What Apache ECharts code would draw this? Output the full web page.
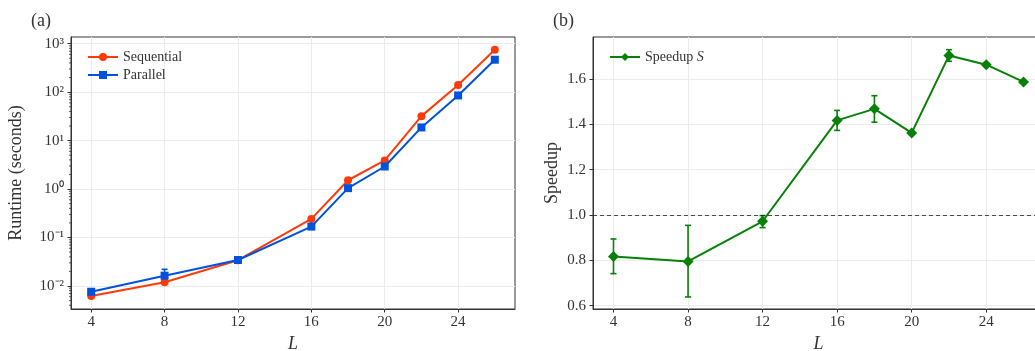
<!DOCTYPE html>
<html>
<head>
<meta charset="utf-8">
<script src="https://cdn.jsdelivr.net/npm/echarts@6/dist/echarts.min.js"></script>
<style>
html,body{margin:0;padding:0;background:#fff;}
#chart{width:1035px;height:351px;}
</style>
</head>
<body>
<div id="chart"></div>
<script>
// ---- data ----
const L = [4, 8, 12, 16, 18, 20, 22, 24, 26];
const seqRuntime = [0.0062, 0.0119, 0.0340, 0.242, 1.52, 3.89, 32.0, 140, 752];
const seqLow     = [0.0061, 0.0117, 0.0336, 0.238, 1.50, 3.84, 31.5, 138, 745];
const seqHigh    = [0.0063, 0.0121, 0.0344, 0.246, 1.54, 3.94, 32.5, 142, 759];
const parRuntime = [0.0076, 0.0163, 0.0344, 0.168, 1.045, 2.92, 18.7, 85.5, 467];
const parLow     = [0.0073, 0.0133, 0.0336, 0.164, 1.02, 2.86, 18.3, 84.0, 462];
const parHigh    = [0.0079, 0.0221, 0.0352, 0.172, 1.07, 2.98, 19.1, 87.0, 472];
const speedup     = [0.817, 0.795, 0.972, 1.417, 1.468, 1.362, 1.703, 1.663, 1.587];
const speedupLow  = [0.741, 0.638, 0.944, 1.373, 1.409, 1.357, 1.678, 1.658, 1.583];
const speedupHigh = [0.894, 0.954, 0.997, 1.461, 1.526, 1.367, 1.729, 1.668, 1.591];
const xTicks = [4, 8, 12, 16, 20, 24];
const runtimeTicks = [0.01, 0.1, 1, 10, 100, 1000];
const speedupTicks = [0.6, 0.8, 1.0, 1.2, 1.4, 1.6];
const logMinorTicks = [0.004,0.005,0.006,0.007,0.008,0.009,
  0.02,0.03,0.04,0.05,0.06,0.07,0.08,0.09,
  0.2,0.3,0.4,0.5,0.6,0.7,0.8,0.9,
  2,3,4,5,6,7,8,9,
  20,30,40,50,60,70,80,90,
  200,300,400,500,600,700,800,900];
const supMap = {'-':'\u207B','0':'\u2070','1':'\u00B9','2':'\u00B2','3':'\u00B3','4':'\u2074','5':'\u2075','6':'\u2076','7':'\u2077','8':'\u2078','9':'\u2079'};

// ---- styling ----
const FONT = 'Liberation Serif';
const RED = '#ff3a0a', BLUE = '#0052dd', GREEN = '#078007';
const AX = '#333333', GRIDC = '#ebebeb';

function pairs(xs, ys){ return xs.map((x,i)=>[x, ys[i]]); }
function triples(xs, lo, hi){ return xs.map((x,i)=>[x, lo[i], hi[i]]); }

function errRender(color){
  return function(params, api){
    const x = api.value(0), lo = api.value(1), hi = api.value(2);
    const p1 = api.coord([x, lo]), p2 = api.coord([x, hi]);
    const c = 3;
    const st = {stroke: color, lineWidth: 1.6};
    return {type:'group', children:[
      {type:'line', shape:{x1:p1[0], y1:p1[1], x2:p2[0], y2:p2[1]}, style:st},
      {type:'line', shape:{x1:p1[0]-c, y1:p1[1], x2:p1[0]+c, y2:p1[1]}, style:st},
      {type:'line', shape:{x1:p2[0]-c, y1:p2[1], x2:p2[0]+c, y2:p2[1]}, style:st}
    ]};
  };
}

const xAxisBase = {
  type:'value', min:2.9, max:27.1,
  axisLine:{show:true, lineStyle:{color:AX, width:1}},
  axisTick:{show:true, inside:false, length:3.5, lineStyle:{color:AX}, customValues: xTicks},
  axisLabel:{color:AX, fontFamily:FONT, fontSize:15, margin:6, customValues: xTicks},
  splitLine:{show:true, lineStyle:{color:GRIDC, width:1}},
  name:'L', nameLocation:'middle', nameGap:26,
  nameTextStyle:{fontFamily:FONT, fontSize:18, fontStyle:'italic', color:AX}
};

const option = {
  animation:false,
  backgroundColor:'#fff',
  graphic:[
    {type:'text', left:31, top:12, style:{text:'(a)', font:'18px "Liberation Serif"', fill:AX}},
    {type:'text', left:553, top:12, style:{text:'(b)', font:'18px "Liberation Serif"', fill:AX}}
  ],
  grid:[
    {left:71, top:37, width:444, height:272, show:true, borderColor:AX, borderWidth:1, backgroundColor:'transparent', containLabel:false, outerBoundsMode:'none'},
    {left:593, top:37, width:451, height:272, show:true, borderColor:AX, borderWidth:1, backgroundColor:'transparent', containLabel:false, outerBoundsMode:'none'}
  ],
  legend:[
    {orient:'vertical', left:82, top:45, itemWidth:30, itemHeight:10, itemGap:4,
     data:['Sequential','Parallel'], textStyle:{fontFamily:FONT, fontSize:14, color:AX}, selectedMode:false},
    {orient:'vertical', left:604, top:45, itemWidth:30, itemHeight:10,
     data:['Speedup S'], selectedMode:false,
     formatter:function(){ return 'Speedup {i|S}'; },
     textStyle:{fontFamily:FONT, fontSize:14, color:AX, rich:{i:{fontFamily:FONT, fontSize:14, fontStyle:'italic', color:AX}}}}
  ],
  xAxis:[
    Object.assign({gridIndex:0}, xAxisBase),
    Object.assign({gridIndex:1}, xAxisBase)
  ],
  yAxis:[
    {gridIndex:0, type:'log', logBase:10, min:0.00335, max:1374,
     axisLine:{show:true, lineStyle:{color:AX}},
     axisTick:{show:true, length:3.5, lineStyle:{color:AX}, customValues: runtimeTicks},
     axisLabel:{color:AX, fontFamily:FONT, fontSize:15, margin:7, customValues: runtimeTicks,
       formatter:function(v){ const e = Math.round(Math.log10(v)); return '10' + String(e).split('').map(ch=>supMap[ch]).join(''); }},
     splitLine:{show:true, lineStyle:{color:GRIDC}},
     name:'Runtime (seconds)', nameLocation:'middle', nameGap:46,
     nameTextStyle:{fontFamily:FONT, fontSize:18, color:AX}},
    {gridIndex:1, type:'value', min:0.585, max:1.785,
     axisLine:{show:true, lineStyle:{color:AX}},
     axisTick:{show:true, length:3.5, lineStyle:{color:AX}, customValues: speedupTicks},
     axisLabel:{color:AX, fontFamily:FONT, fontSize:15, margin:7, customValues: speedupTicks,
       formatter:function(v){ return v.toFixed(1); }},
     splitLine:{show:true, lineStyle:{color:GRIDC}},
     name:'Speedup', nameLocation:'middle', nameGap:32,
     nameTextStyle:{fontFamily:FONT, fontSize:18, color:AX}}
  ],
  series:[
    {type:'custom', name:'minor', xAxisIndex:0, yAxisIndex:0, silent:true, z:1,
     data: logMinorTicks.map(v=>[4, v]),
     renderItem:function(params, api){
       const y = api.coord([4, api.value(1)])[1];
       const x0 = params.coordSys.x;
       return {type:'line', shape:{x1:x0-2, y1:y, x2:x0, y2:y}, style:{stroke:AX, lineWidth:0.8}};
     }},
    {type:'custom', name:'seqErr', xAxisIndex:0, yAxisIndex:0, silent:true, z:2,
     data: triples(L, seqLow, seqHigh), renderItem: errRender(RED)},
    {type:'custom', name:'parErr', xAxisIndex:0, yAxisIndex:0, silent:true, z:2,
     data: triples(L, parLow, parHigh), renderItem: errRender(BLUE)},
    {type:'line', name:'Sequential', xAxisIndex:0, yAxisIndex:0, z:3,
     data: pairs(L, seqRuntime), symbol:'circle', symbolSize:8,
     lineStyle:{color:RED, width:2}, itemStyle:{color:RED}},
    {type:'line', name:'Parallel', xAxisIndex:0, yAxisIndex:0, z:4,
     data: pairs(L, parRuntime), symbol:'rect', symbolSize:8,
     lineStyle:{color:BLUE, width:2}, itemStyle:{color:BLUE}},
    {type:'custom', name:'spErr', xAxisIndex:1, yAxisIndex:1, silent:true, z:2,
     data: triples(L, speedupLow, speedupHigh), renderItem: errRender(GREEN)},
    {type:'line', name:'Speedup S', xAxisIndex:1, yAxisIndex:1, z:3,
     data: pairs(L, speedup), symbol:'diamond', symbolSize:11,
     lineStyle:{color:GREEN, width:2}, itemStyle:{color:GREEN},
     markLine:{silent:true, symbol:'none', label:{show:false},
       lineStyle:{color:'#222', type:[4,3], width:0.8},
       data:[{yAxis:1.0}]}}
  ]
};
const chart = echarts.init(document.getElementById('chart'), null, {renderer:'canvas'});
chart.setOption(option);
</script>
</body>
</html>
